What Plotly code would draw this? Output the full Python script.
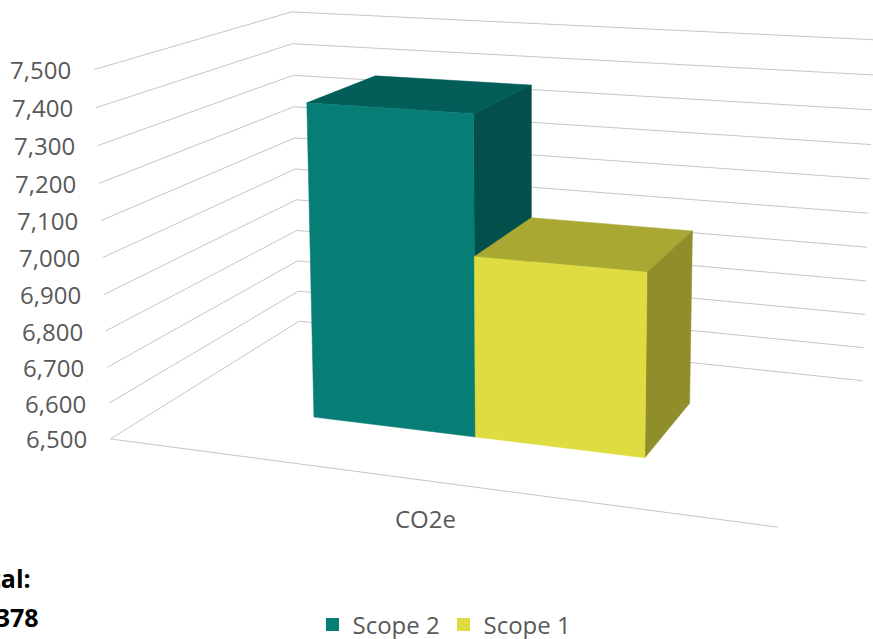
import numpy as np
import plotly.graph_objects as go

# Chart data
series = ["Scope 2", "Scope 1"]
values = [7380, 6998]
category = "CO2e"
ticks = [6500, 6600, 6700, 6800, 6900, 7000, 7100, 7200, 7300, 7400, 7500]
tick_labels = ["6,500", "6,600", "6,700", "6,800", "6,900", "7,000", "7,100", "7,200", "7,300", "7,400", "7,500"]
total_title = "Total:"
total_value = "14,378"

# Colours per series: front, top and side faces
front_colors = ["#067D75", "#DEDC40"]
top_colors = ["#035D59", "#A9A832"]
side_colors = ["#034F4B", "#8F8E2A"]
TEXT = "#595959"
GRID = "#C6C6C6"
FONT = "Open Sans"

# Perspective camera: (depth-normalised x, y, value fraction, 1) -> screen pixels
CAMERA = np.array([
    [578.4255, 248.8391, -19.68517, 110.4667],
    [27.9048, -53.03975, -372.0417, 438.9401],
    [-0.1144192, 0.2013492, -0.03702221, 1.0],
])
# Bar box on the floor: column edges along x, and front/back along depth
COLUMN_EDGES = [0.2425, 0.5056, 0.7658]
DEPTH = (0.2935, 0.6888)
BASE = ticks[0]
SPAN = ticks[-1] - ticks[0]


def project(x, y, z):
    h = CAMERA @ np.array([x, y, (z - BASE) / SPAN, 1.0])
    return h[0] / h[2], h[1] / h[2]


fig = go.Figure()

# Wall gridlines (left wall then back wall) and the floor's front edge
grid_x, grid_y = [], []
for t in ticks:
    for corner in [project(0, 0, t), project(0, 1, t), project(1, 1, t)]:
        grid_x.append(corner[0])
        grid_y.append(corner[1])
    grid_x.append(None)
    grid_y.append(None)
for corner in [project(0, 0, BASE), project(1, 0, BASE)]:
    grid_x.append(corner[0])
    grid_y.append(corner[1])
fig.add_trace(go.Scatter(x=grid_x, y=grid_y, mode="lines", line=dict(color=GRID, width=1),
                         showlegend=False, hoverinfo="skip"))


def add_face(corners, color):
    pts = [project(*c) for c in corners]
    pts.append(pts[0])
    fig.add_trace(go.Scatter(x=[p[0] for p in pts], y=[p[1] for p in pts], mode="lines",
                             fill="toself", fillcolor=color, line=dict(color=color, width=0.5),
                             showlegend=False, hoverinfo="skip"))


# Each column is three visible faces of a box rising from the floor to its value
front_y, back_y = DEPTH
for i, v in enumerate(values):
    a, b = COLUMN_EDGES[i], COLUMN_EDGES[i + 1]
    add_face([(a, front_y, v), (b, front_y, v), (b, back_y, v), (a, back_y, v)], top_colors[i])
    add_face([(b, front_y, BASE), (b, back_y, BASE), (b, back_y, v), (b, front_y, v)], side_colors[i])
    add_face([(a, front_y, BASE), (b, front_y, BASE), (b, front_y, v), (a, front_y, v)], front_colors[i])

# Legend entries
for name, color in zip(series, front_colors):
    fig.add_trace(go.Scatter(x=[None], y=[None], mode="markers", name=name,
                             marker=dict(symbol="square", size=13, color=color)))

annotations = []
label_font = dict(family=FONT, size=24, color=TEXT)
for t, label in zip(ticks, tick_labels):
    px, py = project(0, 0, t)
    annotations.append(dict(x=px, y=py, xref="x", yref="y", text=label, xanchor="right", yanchor="middle",
                            xshift=-21, showarrow=False, font=label_font))
cx, cy = project(0.5, 0, BASE)
annotations.append(dict(x=cx, y=cy, xref="x", yref="y", text=category, showarrow=False, font=label_font,
                        xshift=2, yshift=-38))

# Running total, flush against the page's left side
bold_font = dict(family=FONT, size=25, color="#000000")
annotations.append(dict(x=-42.5 / 873, y=1 - 578 / 639, xref="paper", yref="paper", text=f"<b>{total_title}</b>",
                        xanchor="left", yanchor="middle", showarrow=False, font=bold_font))
annotations.append(dict(x=-42.5 / 873, y=1 - 617 / 639, xref="paper", yref="paper", text=f"<b>{total_value}</b>",
                        xanchor="left", yanchor="middle", showarrow=False, font=bold_font))

fig.update_layout(
    width=873, height=639,
    margin=dict(l=0, r=0, t=0, b=0, autoexpand=False),
    paper_bgcolor="white", plot_bgcolor="white",
    xaxis=dict(range=[0, 873], visible=False),
    yaxis=dict(range=[639, 0], visible=False),
    annotations=annotations,
    legend=dict(orientation="h", x=324.5 / 873, y=1 - 625 / 639, xanchor="left", yanchor="middle",
                indentation=-12, entrywidth=98, font=dict(family=FONT, size=24, color=TEXT),
                bgcolor="rgba(0,0,0,0)"),
)
fig.write_html("out.html")
